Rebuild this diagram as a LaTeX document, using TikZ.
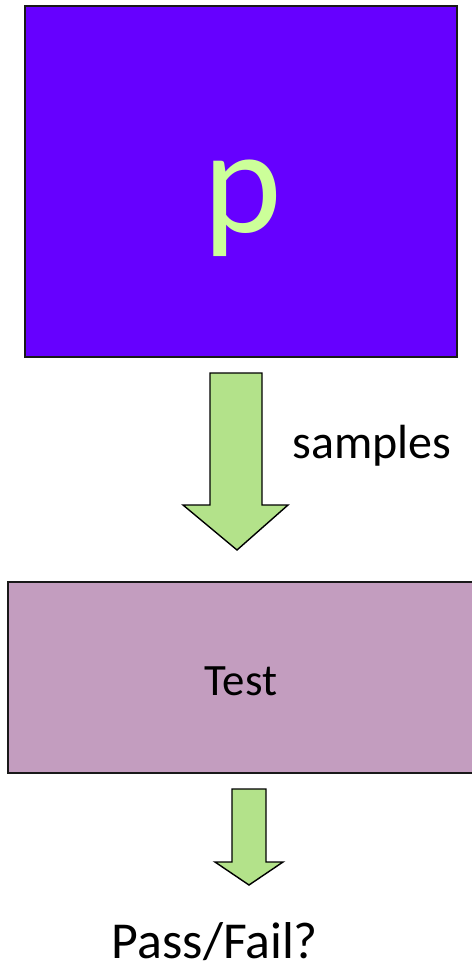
\documentclass[tikz,border=0pt]{standalone}
\usepackage{fontspec}
\setmainfont{Carlito}
\usetikzlibrary{positioning}
\definecolor{pviolet}{HTML}{6600FF}
\definecolor{plime}{HTML}{CCFF99}
\definecolor{testmauve}{HTML}{C39DBF}
\definecolor{arrowgreen}{HTML}{B3E28A}

\begin{document}
\begin{tikzpicture}[x=0.02cm, y=-0.02cm]
\tikzstyle{bigbox} = [draw=black!90, line width=1.1pt, inner sep=0pt, outer sep=0pt]
\tikzstyle{fatArrow} = [draw=black, line width=0.8pt, fill=arrowgreen, line join=miter]
\useasboundingbox (0,0) rectangle (472,969);
\clip (0,0) rectangle (472,969);

\node[bigbox, fill=pviolet, minimum width=432*0.02cm, minimum height=351*0.02cm] at (241,181.5) (dist){};
\node[text=plime, font=\fontsize{85}{90}\selectfont, anchor=base] at (243,233) (plabel){p};

\node[bigbox, fill=testmauve, minimum width=472*0.02cm, minimum height=191*0.02cm] at (244,677.5) (test){};
\node[font=\fontsize{25.5}{30}\selectfont, anchor=base] at (241,695) (testlabel){Test};

% arrow from the distribution down to the tester
\draw[fatArrow] (210,373) -- (262,373) -- (262,505) -- (288,505) -- (237,550)
   -- (183,505) -- (210,505) -- cycle;
\node[font=\fontsize{27.3}{32}\selectfont, anchor=base west, inner sep=0pt] at (292,458) (samples){samples};

% arrow from the tester to the verdict
\draw[fatArrow] (232,789) -- (266,789) -- (266,862) -- (283,862) -- (249,885)
   -- (215,862) -- (232,862) -- cycle;
\node[font=\fontsize{29.5}{35}\selectfont, anchor=base, inner sep=0pt] at (215,958) (verdict){Pass/Fail?};
\end{tikzpicture}
\end{document}
